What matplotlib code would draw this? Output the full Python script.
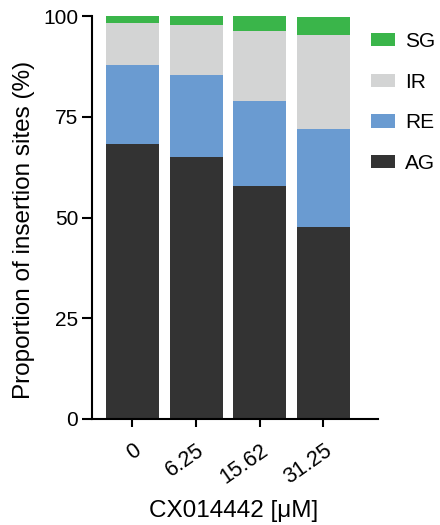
import matplotlib
matplotlib.use("Agg")
import matplotlib.pyplot as plt
import numpy as np

plt.rcParams['font.family'] = ['Liberation Sans', 'DejaVu Sans']

# Insertion site categories at each CX014442 concentration (% of sites)
concentrations = ["0", "6.25", "15.62", "31.25"]
AG = [68.2, 65.0, 57.7, 47.7]
RE = [19.6, 20.4, 21.3, 24.2]
IR = [10.4, 12.4, 17.2, 23.3]
SG = [1.8, 2.2, 3.8, 4.6]

series = [("AG", AG, "#333333"), ("RE", RE, "#6A9BD1"),
          ("IR", IR, "#D3D4D4"), ("SG", SG, "#3AB54A")]

W, H = 440, 525
fig = plt.figure(figsize=(W / 100, H / 100), dpi=100)
ax = fig.add_axes([92 / W, 1 - 419 / H, (378 - 92) / W, (419 - 16) / H])

x = np.arange(len(concentrations))
bottom = np.zeros(len(concentrations))
handles = []
for name, vals, color in series:
    b = ax.bar(x, vals, width=0.83, bottom=bottom, color=color,
               edgecolor="none", label=name)
    handles.append(b)
    bottom += np.array(vals)

ax.set_xlim(-0.636, 3.856)
ax.set_ylim(0, 100)
ax.set_yticks([0, 25, 50, 75, 100])
ax.set_xticks(x)
ax.set_xticklabels(concentrations, rotation=35, ha="right", va="top",
                   rotation_mode="anchor", fontsize=15.5)
ax.tick_params(axis="y", labelsize=15, length=7, width=1.5, pad=3)
ax.tick_params(axis="x", length=6, width=1.5, pad=9)

for s in ["top", "right"]:
    ax.spines[s].set_visible(False)
for s in ["left", "bottom"]:
    ax.spines[s].set_linewidth(1.5)

ax.set_ylabel("Proportion of insertion sites (%)", fontsize=17.5)
ax.yaxis.set_label_coords(-0.199, 0.468)
ax.set_xlabel("CX014442 [μM]", fontsize=17.5)
ax.xaxis.set_label_coords(0.494, -0.201)

leg = ax.legend(handles[::-1], [h.get_label() for h in handles[::-1]],
                loc="upper left", bbox_to_anchor=(371 / W, 1 - 32 / H),
                bbox_transform=fig.transFigure, frameon=False, fontsize=15,
                handlelength=1.15, handleheight=0.63, labelspacing=1.04,
                handletextpad=0.48, borderpad=0, borderaxespad=0)

fig.savefig("out.png", dpi=100)
